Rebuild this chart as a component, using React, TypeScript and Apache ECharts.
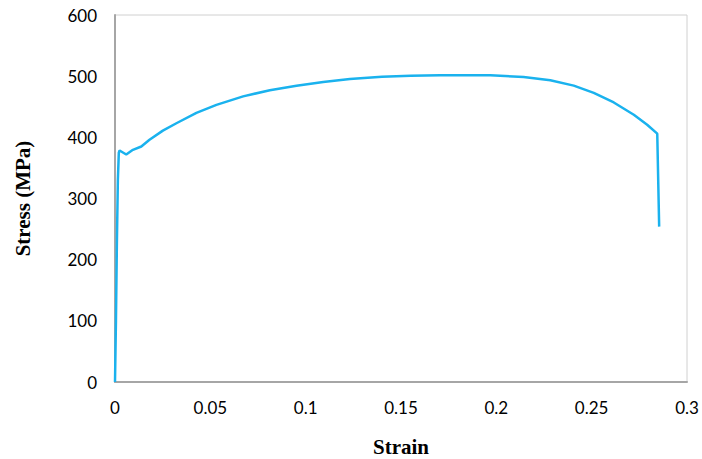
import React, { useEffect, useRef } from "react";
import * as echarts from "echarts";

const strain = [0, 0.0005, 0.001, 0.0015, 0.002, 0.0024, 0.0059, 0.0094, 0.0138, 0.0181, 0.0251, 0.0322, 0.0427, 0.0532, 0.0672, 0.0812, 0.0952, 0.1092, 0.1232, 0.14, 0.155, 0.1705, 0.1968, 0.2143, 0.2283, 0.2406, 0.2511, 0.2616, 0.2721, 0.2791, 0.2844, 0.2854];
const stress = [0, 100, 230, 330, 375, 378.5, 372, 379.6, 385, 396, 411, 423, 440, 453, 467, 477, 484.5, 490.6, 495.5, 499, 500.6, 501.4, 501.4, 498.8, 493.2, 484.5, 472.6, 457, 437, 420.6, 406, 254];

const xTitle = "Strain";
const yTitle = "Stress (MPa)";

export default function App() {
  const ref = useRef<HTMLDivElement>(null);
  useEffect(() => {
    if (!ref.current) return;
    const chart = echarts.init(ref.current, null, { renderer: "svg" });
    const data = strain.map((s, i) => [s, stress[i]]);
    chart.setOption({
      animation: false,
      backgroundColor: "#ffffff",
      grid: {
        left: 115,
        top: 15,
        right: 15,
        bottom: 77,
        outerBoundsMode: "none",
        containLabel: false,
        show: true,
        borderColor: "#d0d0d0",
        borderWidth: 1,
      },
      xAxis: {
        type: "value",
        min: 0,
        max: 0.3,
        interval: 0.05,
        name: xTitle,
        nameLocation: "middle",
        nameGap: 54,
        nameTextStyle: { fontFamily: "Liberation Serif", fontWeight: "bold", fontSize: 21, color: "#000" },
        axisLine: { show: true, lineStyle: { color: "#a6a6a6", width: 2 } },
        axisTick: { show: false },
        splitLine: { show: false },
        axisLabel: { fontFamily: "Lato", fontSize: 17, color: "#000", margin: 17 },
      },
      yAxis: {
        type: "value",
        min: 0,
        max: 600,
        interval: 100,
        name: yTitle,
        nameLocation: "middle",
        nameGap: 82,
        nameTextStyle: { fontFamily: "Liberation Serif", fontWeight: "bold", fontSize: 21, color: "#000" },
        axisLine: { show: true, lineStyle: { color: "#a6a6a6", width: 2 } },
        axisTick: { show: false },
        splitLine: { show: false },
        axisLabel: { fontFamily: "Lato", fontSize: 17, color: "#000", margin: 18 },
      },
      series: [
        {
          type: "line",
          data,
          showSymbol: false,
          lineStyle: { color: "#1ab2ee", width: 2.5 },
          smooth: false,
        },
      ],
    });
    return () => chart.dispose();
  }, []);
  return <div ref={ref} style={{ position: "absolute", left: 0, top: 0, width: 702, height: 459 }} />;
}
